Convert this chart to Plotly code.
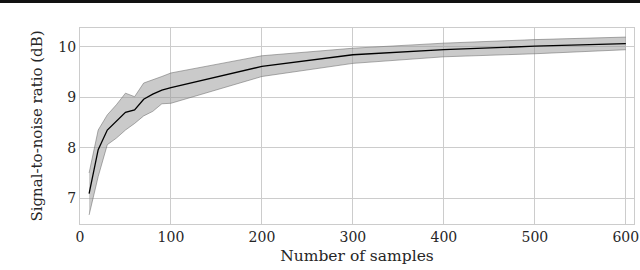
import plotly.graph_objects as go

samples = [10, 20, 30, 40, 50, 60, 70, 80, 90, 100, 200, 300, 400, 500, 600]
snr_mean = [7.09, 7.96, 8.35, 8.53, 8.70, 8.75, 8.96, 9.06, 9.14, 9.19, 9.61, 9.84, 9.94, 10.01, 10.06]
snr_upper = [7.50, 8.35, 8.65, 8.85, 9.08, 9.01, 9.28, 9.34, 9.41, 9.48, 9.82, 9.97, 10.07, 10.14, 10.19]
snr_lower = [6.67, 7.43, 8.06, 8.19, 8.35, 8.48, 8.63, 8.72, 8.87, 8.88, 9.41, 9.67, 9.80, 9.86, 9.94]
x_ticks = [0, 100, 200, 300, 400, 500, 600]
y_ticks = [7, 8, 9, 10]

FONT = "DejaVu Serif"
fig = go.Figure()
fig.add_trace(go.Scatter(x=samples, y=snr_upper, mode="lines",
                         line=dict(color="rgba(110,110,110,0.7)", width=0.8),
                         hoverinfo="skip", showlegend=False))
fig.add_trace(go.Scatter(x=samples, y=snr_lower, mode="lines", fill="tonexty",
                         fillcolor="rgba(150,150,150,0.5)",
                         line=dict(color="rgba(110,110,110,0.7)", width=0.8),
                         hoverinfo="skip", showlegend=False))
fig.add_trace(go.Scatter(x=samples, y=snr_mean, mode="lines",
                         line=dict(color="black", width=1.3), showlegend=False))

axis_common = dict(showgrid=True, gridcolor="#cccccc", gridwidth=1,
                   showline=True, linecolor="#cccccc", linewidth=1, mirror=True,
                   zeroline=False, ticks="", automargin=False,
                   tickfont=dict(family=FONT, size=14, color="#262626"))
fig.update_xaxes(range=[0, 609], tickvals=x_ticks,
                 title=dict(text="Number of samples", font=dict(family=FONT, size=15.5, color="#262626"), standoff=6),
                 **axis_common)
fig.update_yaxes(range=[6.49, 10.37], tickvals=y_ticks,
                 title=dict(text="Signal-to-noise ratio (dB)", font=dict(family=FONT, size=15, color="#262626"), standoff=12),
                 **axis_common)

fig.add_shape(type="rect", xref="paper", yref="paper", x0=-0.2, x1=1.1,
              y0=1 + 25 / 196, y1=1 + 28.5 / 196, fillcolor="#111111", line=dict(width=0), layer="above")

fig.update_layout(width=640, height=270, margin=dict(l=80, r=6, t=28, b=46, autoexpand=False),
                  plot_bgcolor="white", paper_bgcolor="white",
                  font=dict(family=FONT, color="#262626"))
fig.write_html("out.html", config={"displayModeBar": False},
               post_script="document.body.style.margin='0';")
